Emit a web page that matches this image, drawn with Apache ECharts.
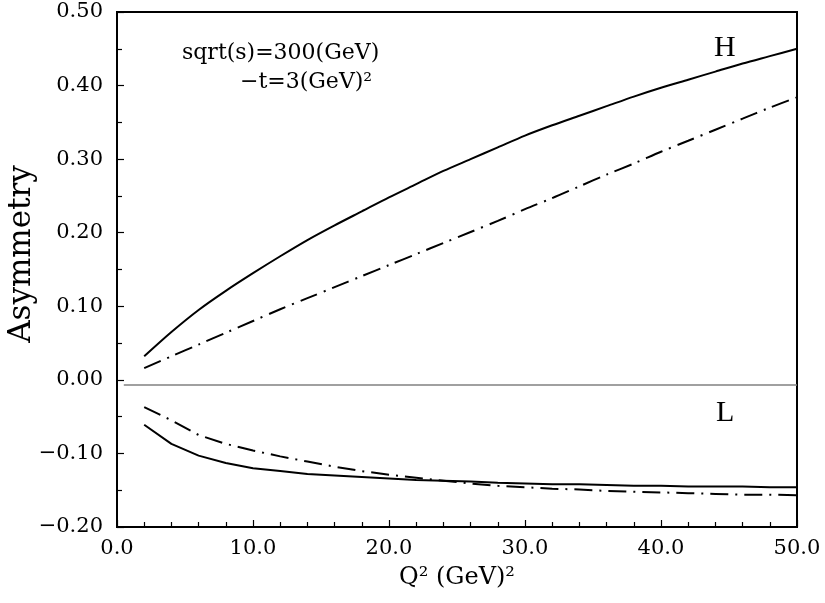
<!DOCTYPE html>
<html>
<head>
<meta charset="utf-8">
<script src="https://cdn.jsdelivr.net/npm/echarts@6/dist/echarts.min.js"></script>
<style>html,body{margin:0;padding:0;background:#fff;}#c{width:825px;height:603px;}</style>
</head>
<body>
<div id="c"></div>
<script>
const q2 = [2,4,6,8,10,12,14,16,18,20,22,24,26,28,30,32,34,36,38,40,42,44,46,48,50];
const hSolid = [0.032,0.065,0.095,0.121,0.145,0.168,0.190,0.210,0.229,0.248,0.266,0.284,0.300,0.316,0.332,0.346,0.359,0.372,0.385,0.397,0.408,0.419,0.430,0.440,0.450];
const hDashDot = [0.016,0.032,0.048,0.064,0.080,0.096,0.111,0.126,0.141,0.156,0.171,0.186,0.201,0.216,0.232,0.247,0.263,0.279,0.294,0.310,0.325,0.340,0.355,0.370,0.384];
const lSolid = [-0.061,-0.087,-0.103,-0.113,-0.120,-0.124,-0.128,-0.130,-0.132,-0.134,-0.136,-0.137,-0.138,-0.140,-0.141,-0.142,-0.142,-0.143,-0.144,-0.144,-0.145,-0.145,-0.145,-0.146,-0.146];
const lDashDot = [-0.037,-0.055,-0.075,-0.087,-0.096,-0.104,-0.111,-0.118,-0.124,-0.129,-0.133,-0.137,-0.141,-0.144,-0.146,-0.148,-0.149,-0.151,-0.152,-0.153,-0.154,-0.155,-0.156,-0.156,-0.157];
const zeroLineX = [0.5, 50];
const zeroLineY = [-0.007, -0.007];
const xTitle = 'Q\u00b2 (GeV)\u00b2';
const yTitle = 'Asymmetry';
const note1 = 'sqrt(s)=300(GeV)';
const note2 = '\u2212t=3(GeV)\u00b2';
const labelH = 'H';
const labelL = 'L';

const pair = (xs, ys) => xs.map((x, i) => [x, ys[i]]);
const font = 'DejaVu Serif';
const dashDot = [18, 7, 2, 7];

const chart = echarts.init(document.getElementById('c'));
chart.setOption({
  animation: false,
  backgroundColor: '#fff',
  grid: { left: 117, right: 28, top: 12, bottom: 76, containLabel: false, outerBoundsMode: 'none',
    show: true, borderColor: '#000', borderWidth: 2, backgroundColor: 'transparent' },
  xAxis: {
    type: 'value', min: 0, max: 50, interval: 10,
    name: xTitle, nameLocation: 'middle', nameGap: 39, nameMoveOverlap: false,
    nameTextStyle: { fontFamily: font, fontSize: 24, color: '#000' },
    axisLine: { show: true, onZero: false, lineStyle: { color: '#000', width: 2 } },
    axisTick: { show: true, inside: true, length: 7, lineStyle: { color: '#000', width: 1.2 } },
    minorTick: { show: true, splitNumber: 5, length: 5, lineStyle: { color: '#000', width: 1.2 } },
    axisLabel: { fontFamily: font, fontSize: 21, color: '#000', margin: 11, formatter: v => v.toFixed(1) },
    splitLine: { show: false }
  },
  yAxis: {
    type: 'value', min: -0.2, max: 0.5, interval: 0.1,
    axisLine: { show: true, onZero: false, lineStyle: { color: '#000', width: 2 } },
    axisTick: { show: true, inside: true, length: 7, lineStyle: { color: '#000', width: 1.2 } },
    minorTick: { show: true, splitNumber: 2, length: 5, lineStyle: { color: '#000', width: 1.2 } },
    axisLabel: { fontFamily: font, fontSize: 21, color: '#000', margin: 14,
      formatter: v => (v < -1e-9 ? '\u2212' : '') + Math.abs(v).toFixed(2) },
    splitLine: { show: false }
  },
  series: [
    { type: 'line', data: pair(zeroLineX, zeroLineY), showSymbol: false, lineStyle: { color: '#808080', width: 1.5 }, z: 1 },
    { type: 'line', data: pair(q2, hSolid), showSymbol: false, smooth: 0.3, lineStyle: { color: '#000', width: 2 } },
    { type: 'line', data: pair(q2, hDashDot), showSymbol: false, smooth: 0.3, lineStyle: { color: '#000', width: 2, type: dashDot } },
    { type: 'line', data: pair(q2, lSolid), showSymbol: false, lineStyle: { color: '#000', width: 2 } },
    { type: 'line', data: pair(q2, lDashDot), showSymbol: false, lineStyle: { color: '#000', width: 2, type: dashDot } }
  ],
  graphic: [
    { type: 'text', x: 22, y: 254, rotation: Math.PI / 2,
      style: { text: yTitle, fontFamily: font, fontSize: 31, fill: '#000', align: 'center', verticalAlign: 'middle' } },
    { type: 'text', left: 182, top: 42, style: { text: note1, fontFamily: font, fontSize: 22, fill: '#000' } },
    { type: 'text', left: 240, top: 71, style: { text: note2, fontFamily: font, fontSize: 22, fill: '#000' } },
    { type: 'text', left: 714, top: 33, style: { text: labelH, fontFamily: 'Liberation Serif', fontSize: 30, fill: '#000' } },
    { type: 'text', left: 716, top: 398, style: { text: labelL, fontFamily: 'Liberation Serif', fontSize: 30, fill: '#000' } }
  ]
});
</script>
</body>
</html>
